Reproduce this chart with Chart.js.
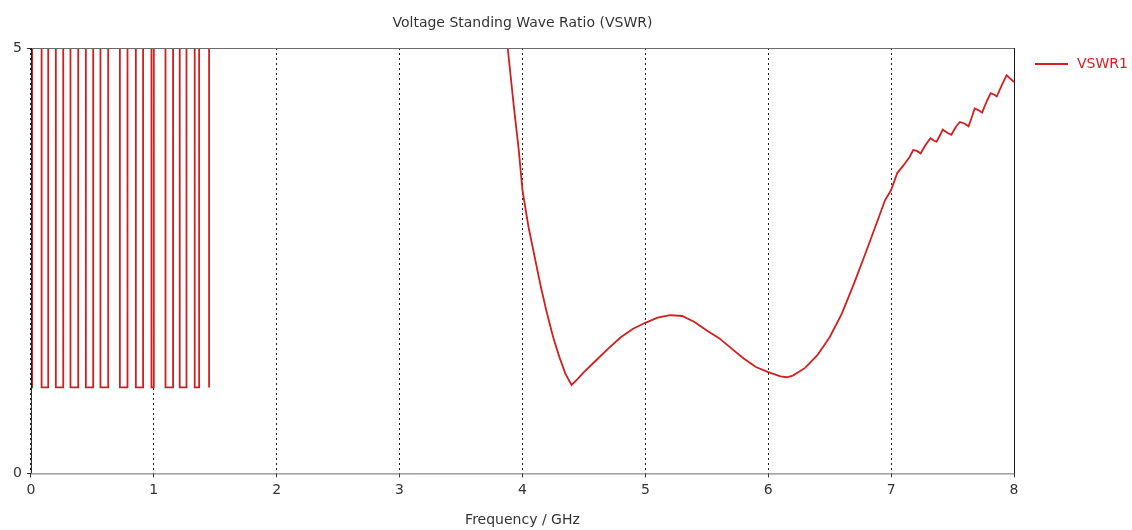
<!DOCTYPE html>
<html lang="en">
<head>
    <meta charset="UTF-8">
    <title>Voltage Standing Wave Ratio (VSWR)</title>
    <script src="https://cdn.jsdelivr.net/npm/chart.js"></script>
    <style>
        body {
            margin: 0;
            background-color: #ffffff;
        }

        .chart-box {
            position: relative;
            width: 1132px;
            height: 530px;
        }
    </style>
</head>
<body>
    <div class="chart-box">
        <canvas id="vswrChart"></canvas>
    </div>

    <script>
        // frequency in GHz, VSWR (6 = off scale, clipped at 5)
        const freqGHz = [
            0, 0.01, 0.01, 0.087, 0.087, 0.141, 0.141, 0.203, 0.203, 0.263, 0.263,
            0.322, 0.322, 0.385, 0.385, 0.447, 0.447, 0.507, 0.507, 0.566, 0.566,
            0.629, 0.629, 0.724, 0.724, 0.786, 0.786, 0.854, 0.854, 0.913, 0.913,
            0.981, 0.981, 1.0, 1.0, 1.095, 1.095, 1.157, 1.157, 1.211, 1.211,
            1.266, 1.266, 1.333, 1.333, 1.369, 1.369, 1.45, 1.45,
            2.7,
            3.82, 3.88, 3.93, 3.97, 4.0, 4.05, 4.1, 4.15, 4.2, 4.25, 4.3, 4.35, 4.4,
            4.45, 4.5, 4.6, 4.7, 4.8, 4.9, 5.0, 5.1, 5.2, 5.3, 5.4, 5.5, 5.6, 5.7,
            5.8, 5.9, 6.0, 6.1, 6.15, 6.2, 6.3, 6.4, 6.5, 6.6, 6.7, 6.8, 6.9, 6.95,
            7.0, 7.05, 7.1, 7.15, 7.18, 7.21, 7.24, 7.28, 7.32, 7.35, 7.37, 7.40,
            7.42, 7.46, 7.49, 7.53, 7.56, 7.6, 7.63, 7.66, 7.68, 7.71, 7.74, 7.78,
            7.81, 7.84, 7.86, 7.9, 7.94, 7.97, 8.0
        ];
        const vswr = [
            1.01, 1.01, 6, 6, 1.01, 1.01, 6, 6, 1.01, 1.01, 6,
            6, 1.01, 1.01, 6, 6, 1.01, 1.01, 6, 6, 1.01,
            1.01, 6, 6, 1.01, 1.01, 6, 6, 1.01, 1.01, 6,
            6, 1.01, 1.01, 6, 6, 1.01, 1.01, 6, 6, 1.01,
            1.01, 6, 6, 1.01, 1.01, 6, 6, 1.01,
            null,
            6, 5.0, 4.31, 3.8, 3.33, 2.89, 2.54, 2.19, 1.88, 1.6, 1.37, 1.17, 1.04,
            1.11, 1.19, 1.33, 1.47, 1.6, 1.7, 1.77, 1.83, 1.86, 1.85, 1.78, 1.68, 1.59, 1.47,
            1.35, 1.25, 1.19, 1.14, 1.13, 1.15, 1.24, 1.39, 1.6, 1.88, 2.24, 2.62, 3.01, 3.21,
            3.33, 3.53, 3.62, 3.72, 3.8, 3.79, 3.76, 3.86, 3.94, 3.91, 3.9, 3.98,
            4.04, 4.0, 3.98, 4.08, 4.13, 4.11, 4.08, 4.2, 4.29, 4.27, 4.24, 4.38,
            4.47, 4.45, 4.43, 4.56, 4.68, 4.64, 4.6
        ];
        const xTicks = [0, 1, 2, 3, 4, 5, 6, 7, 8];
        const yTicks = [0, 5];

        const points = freqGHz.map((f, i) => ({ x: f, y: vswr[i] }));

        // box around the plot area + legend entry at the right of it
        const frameAndLegend = {
            id: 'frameAndLegend',
            afterDatasetsDraw(chart) {
                const a = chart.chartArea;
                const ctx = chart.ctx;
                ctx.save();
                ctx.lineWidth = 1;
                ctx.strokeStyle = '#6b6b6b';
                ctx.beginPath();
                ctx.moveTo(a.left, a.top + 0.5);
                ctx.lineTo(a.right, a.top + 0.5);
                ctx.moveTo(a.left, a.bottom + 0.5);
                ctx.lineTo(a.right, a.bottom + 0.5);
                ctx.stroke();
                ctx.strokeStyle = '#1a1a1a';
                ctx.beginPath();
                ctx.moveTo(a.left + 0.5, a.top);
                ctx.lineTo(a.left + 0.5, a.bottom);
                ctx.moveTo(a.right + 0.5, a.top);
                ctx.lineTo(a.right + 0.5, a.bottom);
                ctx.stroke();

                const ds = chart.data.datasets[0];
                const ly = a.top + 16;
                ctx.strokeStyle = ds.borderColor;
                ctx.lineWidth = 2;
                ctx.beginPath();
                ctx.moveTo(a.right + 21, ly);
                ctx.lineTo(a.right + 54, ly);
                ctx.stroke();
                ctx.fillStyle = ds.borderColor;
                ctx.font = "14px 'DejaVu Sans', sans-serif";
                ctx.textBaseline = 'middle';
                ctx.fillText(ds.label, a.right + 63, ly);
                ctx.restore();
            }
        };

        Chart.defaults.font.family = "'DejaVu Sans', sans-serif";
        Chart.defaults.font.size = 14;
        Chart.defaults.color = '#333';

        new Chart(document.getElementById('vswrChart'), {
            type: 'line',
            data: {
                datasets: [{
                    label: 'VSWR1',
                    data: points,
                    borderColor: '#d01f1f',
                    backgroundColor: '#d01f1f',
                    borderWidth: 1.8,
                    pointRadius: 0,
                    tension: 0,
                    spanGaps: false
                }]
            },
            options: {
                responsive: true,
                maintainAspectRatio: false,
                animation: false,
                layout: { padding: { left: 8, right: 118, top: 0, bottom: 1 } },
                scales: {
                    x: {
                        type: 'linear',
                        min: 0,
                        max: 8,
                        afterBuildTicks: (axis) => { axis.ticks = xTicks.map(v => ({ value: v })); },
                        ticks: { padding: 5, maxRotation: 0 },
                        grid: {
                            color: '#222',
                            tickBorderDash: [],
                            tickColor: '#333',
                            tickLength: 4,
                            lineWidth: 1
                        },
                        border: { display: false, dash: [2, 3] },
                        title: {
                            display: true,
                            text: 'Frequency / GHz',
                            padding: { top: 8, bottom: 0 }
                        }
                    },
                    y: {
                        min: 0,
                        max: 5,
                        afterBuildTicks: (axis) => { axis.ticks = yTicks.map(v => ({ value: v })); },
                        ticks: { padding: 5 },
                        grid: {
                            color: 'rgba(0,0,0,0)',
                            tickColor: '#333',
                            tickLength: 4
                        },
                        border: { display: false }
                    }
                },
                plugins: {
                    title: {
                        display: true,
                        text: 'Voltage Standing Wave Ratio (VSWR)',
                        fullSize: false,
                        color: '#333',
                        font: { size: 14, weight: 'normal' },
                        padding: { top: 14.6, bottom: 16.6 }
                    },
                    legend: { display: false },
                    tooltip: { enabled: false }
                }
            },
            plugins: [frameAndLegend]
        });
    </script>
</body>
</html>
